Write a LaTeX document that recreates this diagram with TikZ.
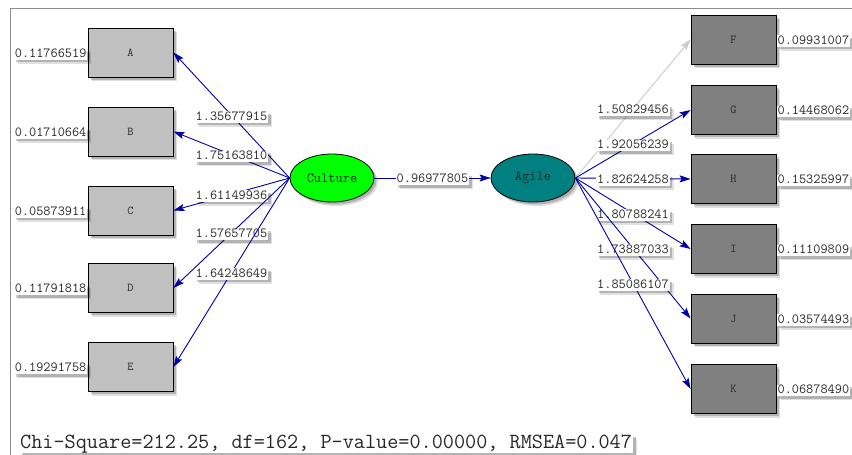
\documentclass[tikz,border=0pt]{standalone}
\usepackage{fontspec}
\usetikzlibrary{shapes.geometric,shadows,arrows.meta}
\definecolor{pblue}{RGB}{0,0,170}
\definecolor{lgray}{RGB}{192,192,192}
\definecolor{dgray}{RGB}{128,128,128}
\definecolor{agcol}{RGB}{0,128,128}
\definecolor{txtc}{RGB}{40,40,40}
\begin{document}
\begin{tikzpicture}[x=1pt,y=-1pt,
  shad/.style={general shadow={shadow xshift=4pt,shadow yshift=-4pt,opacity=0.12,fill=black},
               general shadow={shadow xshift=2.5pt,shadow yshift=-2.5pt,opacity=0.2,fill=black}},
  obsbox/.style={draw=black,line width=0.8pt,minimum width=85pt,minimum height=49pt,inner sep=0pt,font=\ttfamily\fontsize{12}{13}\selectfont,text=txtc,shad},
  lefbox/.style={obsbox,fill=lgray},
  rigbox/.style={obsbox,fill=dgray},
  latnode/.style={ellipse,draw=black,line width=0.8pt,minimum width=84pt,minimum height=48pt,inner sep=0pt,font=\ttfamily\fontsize{14}{15}\selectfont,text=txtc,shad},
  lbl/.style={fill=white,inner xsep=1pt,inner ysep=0.5pt,text height=8.5pt,text depth=2pt,font=\ttfamily\fontsize{13.9}{14}\selectfont,text=txtc,shad},
  pth/.style={draw=pblue,line width=0.9pt,-{Stealth[length=11pt,width=7pt,inset=2pt]}},
  gpth/.style={pth,draw=black!20,fill=black!20}
]
\useasboundingbox (0,0) rectangle (852,455);
\fill[white] (0,0) rectangle (852,455);
\draw[black!45,line width=0.8pt] (10,455) -- (10,8) -- (852,8);

% latent variables
\node[latnode,fill=green] (cul) at (332,178) {Culture};
\node[latnode,fill=agcol] (agi) at (533,178) {Agile};

% left indicators
\node[lefbox] (A) at (130.5,52.5) {A};
\node[lefbox] (B) at (130.5,131.5) {B};
\node[lefbox] (C) at (130.5,210.5) {C};
\node[lefbox] (D) at (130.5,288) {D};
\node[lefbox] (E) at (130.5,367) {E};

% right indicators
\node[rigbox] (F) at (733.5,39.5) {F};
\node[rigbox] (G) at (733.5,110) {G};
\node[rigbox] (H) at (733.5,179) {H};
\node[rigbox] (I) at (733.5,249) {I};
\node[rigbox] (J) at (733.5,318.5) {J};
\node[rigbox] (K) at (733.5,389) {K};

% residuals
\node[lbl,anchor=east,yshift=-1.5pt] (rA) at (A.west) {0.11766519};
\node[lbl,anchor=east,yshift=-1.5pt] (rB) at (B.west) {0.01710664};
\node[lbl,anchor=east,yshift=-1.5pt] (rC) at (C.west) {0.05873911};
\node[lbl,anchor=east,yshift=-1.5pt] (rD) at (D.west) {0.11791818};
\node[lbl,anchor=east,yshift=-1.5pt] (rE) at (E.west) {0.19291758};
\node[lbl,anchor=west,yshift=-1.5pt] (rF) at (F.east) {0.09931007};
\node[lbl,anchor=west,yshift=-1.5pt] (rG) at (G.east) {0.14468062};
\node[lbl,anchor=west,yshift=-1.5pt] (rH) at (H.east) {0.15325997};
\node[lbl,anchor=west,yshift=-1.5pt] (rI) at (I.east) {0.11109809};
\node[lbl,anchor=west,yshift=-1.5pt] (rJ) at (J.east) {0.03574493};
\node[lbl,anchor=west,yshift=-1.5pt] (rK) at (K.east) {0.06878490};

% loadings, left
\draw[pth] (cul.west) -- (A.east) node[midway,lbl,yshift=-1.5pt] (lA) {1.35677915};
\draw[pth] (cul.west) -- (B.east) node[midway,lbl,yshift=-1.5pt] (lB) {1.75163810};
\draw[pth] (cul.west) -- (C.east) node[midway,lbl,yshift=-1.5pt] (lC) {1.61149936};
\draw[pth] (cul.west) -- (D.east) node[midway,lbl,yshift=-1.5pt] (lD) {1.57657705};
\draw[pth] (cul.west) -- (E.east) node[midway,lbl,yshift=-1.5pt] (lE) {1.64248649};

% structural path
\draw[pth] (cul.east) -- (agi.west) node[midway,lbl,yshift=-1.5pt] (lCA) {0.96977805};

% loadings, right
\draw[gpth] (agi.east) -- (F.west) node[midway,lbl,yshift=-1.5pt] (lF) {1.50829456};
\draw[pth] (agi.east) -- (G.west) node[midway,lbl,yshift=-1.5pt] (lG) {1.92056239};
\draw[pth] (agi.east) -- (H.west) node[midway,lbl,yshift=-1.5pt] (lH) {1.82624258};
\draw[pth] (agi.east) -- (I.west) node[midway,lbl,yshift=-1.5pt] (lI) {1.80788241};
\draw[pth] (agi.east) -- (J.west) node[midway,lbl,yshift=-1.5pt] (lJ) {1.73887033};
\draw[pth] (agi.east) -- (K.west) node[midway,lbl,yshift=-1.5pt] (lK) {1.85086107};

% fit statistics
\node[anchor=base west,fill=white,inner xsep=1pt,inner ysep=0pt,font=\ttfamily\fontsize{21.6}{22}\selectfont,text=txtc,shad] (fit) at (19,448) {Chi-Square=212.25, df=162, P-value=0.00000, RMSEA=0.047};
\end{tikzpicture}
\end{document}
